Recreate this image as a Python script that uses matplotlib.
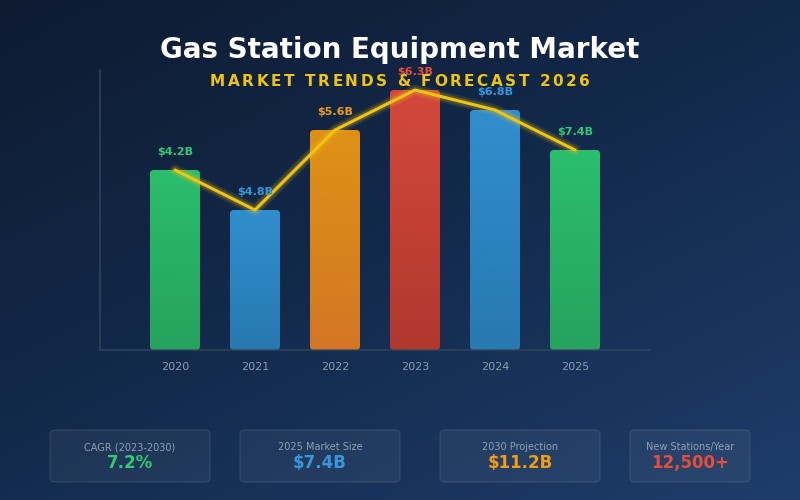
import numpy as np
import matplotlib
matplotlib.use("Agg")
import matplotlib.pyplot as plt
from matplotlib.patches import FancyBboxPatch
from matplotlib.colors import LinearSegmentedColormap
from matplotlib.font_manager import FontProperties

# ------------------ DATA ------------------ #
years      = ["2020", "2021", "2022", "2023", "2024", "2025"]
bar_height = [4.5, 3.5, 5.5, 6.5, 6.0, 5.0]          # drawn height (as in reference)
bar_label  = ["$4.2B", "$4.8B", "$5.6B", "$6.3B", "$6.8B", "$7.4B"]
bar_top    = ["#2ecc71", "#3498db", "#f39c12", "#e74c3c", "#3498db", "#2ecc71"]
bar_bot    = ["#27ae60", "#2980b9", "#e67e22", "#c0392b", "#2980b9", "#27ae60"]

card_title = ["CAGR (2023-2030)", "2025 Market Size", "2030 Projection", "New Stations/Year"]
card_value = ["7.2%", "$7.4B", "$11.2B", "12,500+"]
card_color = ["#2ecc71", "#3498db", "#f39c12", "#e74c3c"]
card_box   = [(50, 210), (240, 400), (440, 600), (630, 750)]   # pixel x-extent
# ------------------------------------------ #

W, H = 800, 500
fig = plt.figure(figsize=(8, 5), dpi=100)

# background gradient --------------------------------------------------- #
bg = fig.add_axes([0, 0, 1, 1], zorder=-10)
yy, xx = np.mgrid[0:1:200j, 0:1:320j]
t = 0.55 * yy + 0.45 * xx
bg_cmap = LinearSegmentedColormap.from_list("bg", ["#0e1b31", "#132a4c", "#1e3d6a"])
bg.imshow(t, cmap=bg_cmap, aspect="auto", extent=[0, 1, 0, 1], origin="upper")
bg.set_axis_off()

# main axes -------------------------------------------------------------- #
ax = fig.add_axes([100 / W, 150 / H, 550 / W, 280 / H])
ax.set_facecolor("none")
x = np.arange(len(years))
for s in ["top", "right"]:
    ax.spines[s].set_visible(False)
for s in ["left", "bottom"]:
    ax.spines[s].set_color("#34495e")
    ax.spines[s].set_linewidth(1.2)
    ax.spines[s].set_alpha(0.8)
ax.set_yticks([])
ax.set_xticks(x)
ax.set_xticklabels(years, color="#8a9bb0", fontsize=8)
ax.tick_params(axis="x", length=0, pad=9)

bars = ax.bar(x, bar_height, width=0.625)
grad = np.linspace(0, 1, 100).reshape(-1, 1)
for rect, c0, c1 in zip(bars, bar_top, bar_bot):
    rect.set_visible(False)
    bx, by, bw, bh = rect.get_x(), rect.get_y(), rect.get_width(), rect.get_height()
    box = FancyBboxPatch((bx, by), bw, bh, boxstyle="round,pad=0,rounding_size=0.05",
                         mutation_aspect=2, facecolor="none", edgecolor="none", zorder=2)
    ax.add_patch(box)
    cm = LinearSegmentedColormap.from_list("b", [c0, c1])
    im = ax.imshow(grad, cmap=cm, aspect="auto", extent=[bx, bx + bw, by, by + bh],
                   origin="upper", zorder=2.1, alpha=0.92)
    im.set_clip_path(box)

ax.set_xlim(-0.9375, 5.9375)
ax.set_ylim(0, 7)

# trend line with glow
ax.plot(x, bar_height, color="#f1c40f", lw=8, alpha=0.12, zorder=3, solid_capstyle="round")
ax.plot(x, bar_height, color="#f1c40f", lw=5, alpha=0.2, zorder=3, solid_capstyle="round")
ax.plot(x, bar_height, color="#f1c40f", lw=2.2, zorder=3.5, solid_capstyle="round")

for xi, h, lab, c in zip(x, bar_height, bar_label, bar_top):
    ax.annotate(lab, (xi, h), xytext=(0, 13), textcoords="offset points",
                ha="center", va="center", fontsize=8, fontweight="bold", color=c, zorder=4)

# titles ----------------------------------------------------------------- #
fig.text(0.5, 1 - 50 / H, "Gas Station Equipment Market", ha="center", va="center",
         fontsize=20, fontweight="bold", color="white")

# letter-spaced subtitle
sub = "MARKET TRENDS & FORECAST 2026"
prop = FontProperties(weight="bold", size=11)
rend = fig.canvas.get_renderer()
widths = [rend.get_text_width_height_descent(ch, prop, ismath=False)[0] for ch in sub]
spacing = 2.6
total = sum(widths) + spacing * (len(sub) - 1)
px = W / 2 - total / 2
for ch, w in zip(sub, widths):
    fig.text(px / W, 1 - 82 / H, ch, ha="left", va="center", fontproperties=prop,
             color="#f1c40f")
    px += w + spacing

# stat cards ------------------------------------------------------------- #
for (x0, x1), ttl, val, c in zip(card_box, card_title, card_value, card_color):
    card = FancyBboxPatch((x0 / W, 18 / H), (x1 - x0) / W, 52 / H,
                          boxstyle="round,pad=0,rounding_size=0.008",
                          transform=fig.transFigure, facecolor=(1, 1, 1, 0.05),
                          edgecolor=(1, 1, 1, 0.09), linewidth=1)
    fig.patches.append(card)
    cx = (x0 + x1) / 2 / W
    fig.text(cx, 1 - 447 / H, ttl, ha="center", va="center", fontsize=7, color="#8fa0b5")
    fig.text(cx, 1 - 463 / H, val, ha="center", va="center", fontsize=12,
             fontweight="bold", color=c)

fig.savefig("out.png", dpi=100)
